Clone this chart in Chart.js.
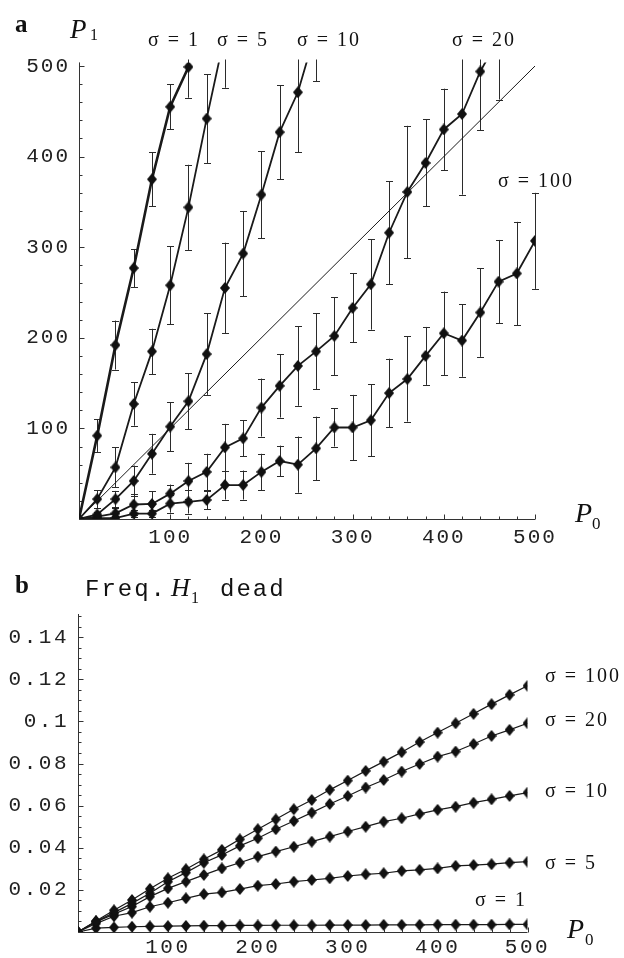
<!DOCTYPE html>
<html><head><meta charset="utf-8">
<script src="https://cdn.jsdelivr.net/npm/chart.js@4.4.0/dist/chart.umd.min.js"></script>
<style>
html,body{margin:0;padding:0;background:#fff;}
#wrapA{position:absolute;left:0;top:0;width:624px;height:556px;}
#wrapB{position:absolute;left:0;top:556px;width:624px;height:402px;}
canvas{display:block;}
</style></head><body>
<div id="wrapA"><canvas id="cA"></canvas></div>
<div id="wrapB"><canvas id="cB"></canvas></div>
<script>
// ---------- shared x values (P0) ----------
const P0 = [0,20,40,60,80,100,120,140,160,180,200,220,240,260,280,300,320,340,360,380,400,420,440,460,480,500];

// ---------- panel a : P1 vs P0, with error bars ----------
const a_sigma1     = [0, 92, 192, 277, 375, 455, 499];
const a_sigma1_err = [0, 18, 27, 21, 30, 25, 34];
const a_sigma5     = [0, 22, 57, 127, 185, 258, 344, 442, 535];
const a_sigma5_err = [0, 10, 22, 24, 25, 43, 47, 49, 59];
const a_sigma10     = [0, 5, 22, 42, 72, 102, 130, 182, 255, 293, 358, 427, 471, 540];
const a_sigma10_err = [0, 3, 9, 17, 22, 27, 31, 45, 50, 47, 48, 52, 66, 57];
const a_sigma20     = [0, 2.6, 6.3, 16, 16.6, 28, 42, 52, 79, 89, 123, 147, 169, 185, 202, 233, 259, 316, 361, 393, 430, 447, 494, 530];
const a_sigma20_err = [0, 3, 6, 12, 14, 10, 20, 20, 26, 20, 32, 35, 44, 42, 43, 38, 50, 57, 73, 48, 45, 89, 65, 67];
const a_sigma100     = [0, 1, 1, 6, 6, 17, 19, 21, 37.5, 37.5, 52, 64, 60, 78, 101, 101, 109, 139, 154.5, 180, 205, 197, 228, 262, 271, 307];
const a_sigma100_err = [0, 1, 2, 4, 4, 10, 13, 10, 16, 16, 20, 17, 31, 35, 21, 36, 40, 38, 47, 32, 46, 40, 49, 46, 57, 53];
const a_diagX = [0, 500];
const a_diagY = [0, 500];
const a_xTicks = [100, 200, 300, 400, 500];
const a_yTicks = [100, 200, 300, 400, 500];

// ---------- panel b : frequency of H1 dead ----------
const b_sigma100 = [0, 0.0052, 0.0103, 0.0152, 0.0205, 0.0255, 0.0298, 0.0345, 0.039, 0.044, 0.0488, 0.0535, 0.0583, 0.0627, 0.0675, 0.0719, 0.0765, 0.0809, 0.0854, 0.0902, 0.0947, 0.0991, 0.1036, 0.1082, 0.1126, 0.1169];
const b_sigma20  = [0, 0.005, 0.0092, 0.0136, 0.0184, 0.0239, 0.0282, 0.0329, 0.0366, 0.0409, 0.0445, 0.0488, 0.0527, 0.0567, 0.0608, 0.0646, 0.0686, 0.0722, 0.0762, 0.0798, 0.0833, 0.0857, 0.0893, 0.0931, 0.096, 0.0991];
const b_sigma10  = [0, 0.0048, 0.0085, 0.0121, 0.0168, 0.0207, 0.0239, 0.0271, 0.0302, 0.0329, 0.0358, 0.0382, 0.0405, 0.0429, 0.0453, 0.0477, 0.05, 0.0524, 0.054, 0.0561, 0.058, 0.0595, 0.0614, 0.063, 0.0646, 0.0662];
const b_sigma5   = [0, 0.004, 0.0075, 0.0092, 0.012, 0.0139, 0.016, 0.018, 0.0188, 0.0204, 0.022, 0.0228, 0.0239, 0.0247, 0.0255, 0.0266, 0.0274, 0.0279, 0.029, 0.0295, 0.0302, 0.0314, 0.0318, 0.0322, 0.0329, 0.0334];
const b_sigma1   = [0, 0.0018, 0.0022, 0.0025, 0.0027, 0.0028, 0.0029, 0.003, 0.003, 0.0031, 0.0031, 0.0032, 0.0032, 0.0032, 0.0033, 0.0033, 0.0033, 0.0034, 0.0034, 0.0034, 0.0035, 0.0035, 0.0035, 0.0035, 0.0036, 0.0036];
const b_xTicks = [100, 200, 300, 400, 500];
const b_yTicks = [0.02, 0.04, 0.06, 0.08, 0.1, 0.12, 0.14];

// ---------- helpers ----------
const SERIF = '"Liberation Serif","Times New Roman",serif';
const MONO = '"Liberation Mono","Courier New",monospace';
const INK = '#1a1a1a';

function pts(xs, ys){ return ys.map((y,i)=>({x:xs[i], y:y})); }

const diamond = (function(){
  const c = document.createElement('canvas'); c.width = 10; c.height = 12;
  const g = c.getContext('2d'); g.fillStyle = '#111';
  g.beginPath(); g.moveTo(5,0); g.lineTo(10,6); g.lineTo(5,12); g.lineTo(0,6); g.closePath(); g.fill();
  return c;
})();

function series(xs, ys, errs, width){
  return { data: pts(xs, ys), errors: errs || null, showLine: true, borderColor: INK, borderWidth: width,
    pointStyle: diamond, pointRadius: 5, pointHoverRadius: 5, backgroundColor: INK, tension: 0 };
}

function spacing(px){
  const set = c => { c.ctx.letterSpacing = px; };
  return { id: 'spacing', beforeUpdate: set, beforeLayout: set, beforeDraw: set };
}

const errorBars = {
  id: 'errorBars',
  beforeDatasetsDraw(chart){
    const {ctx, chartArea: a, scales: {x, y}} = chart;
    ctx.save();
    ctx.beginPath(); ctx.rect(a.left - 5, a.top - 3, a.right - a.left + 10, a.bottom - a.top + 3); ctx.clip();
    ctx.strokeStyle = '#2b2b2b'; ctx.lineWidth = 1;
    chart.data.datasets.forEach(ds => {
      if (!ds.errors) return;
      ds.data.forEach((p, i) => {
        const e = ds.errors[i]; if (!e) return;
        const px = Math.round(x.getPixelForValue(p.x)) + 0.5;
        const y1 = y.getPixelForValue(p.y + e), y2 = y.getPixelForValue(p.y - e);
        ctx.beginPath();
        ctx.moveTo(px, y1); ctx.lineTo(px, y2);
        ctx.moveTo(px - 3.5, Math.round(y1) + 0.5); ctx.lineTo(px + 3.5, Math.round(y1) + 0.5);
        ctx.moveTo(px - 3.5, Math.round(y2) + 0.5); ctx.lineTo(px + 3.5, Math.round(y2) + 0.5);
        ctx.stroke();
      });
    });
    ctx.restore();
  }
};

function axesPlugin(isMajorX, isMajorY){
  return {
    id: 'axesInside',
    beforeDatasetsDraw(chart){
      const {ctx, chartArea: a, scales: {x, y}} = chart;
      const x0 = Math.round(x.getPixelForValue(x.min)) + 0.5;
      const y0 = Math.round(y.getPixelForValue(0)) + 0.5;
      ctx.save();
      ctx.strokeStyle = '#333'; ctx.lineWidth = 1;
      ctx.beginPath();
      ctx.moveTo(x0, y0); ctx.lineTo(x0, a.top);
      ctx.moveTo(x0, y0); ctx.lineTo(x.getPixelForValue(x.max), y0);
      y.ticks.forEach(t => {
        const py = Math.round(y.getPixelForValue(t.value)) + 0.5;
        ctx.moveTo(x0, py); ctx.lineTo(x0 + (isMajorY(t.value) ? 5 : 3), py);
      });
      x.ticks.forEach(t => {
        const px = Math.round(x.getPixelForValue(t.value)) + 0.5;
        ctx.moveTo(px, y0); ctx.lineTo(px, y0 - (isMajorX(t.value) ? 5 : 3));
      });
      ctx.stroke();
      ctx.restore();
    }
  };
}

function textPlugin(items){
  return {
    id: 'texts',
    afterDraw(chart){
      const ctx = chart.ctx;
      ctx.save();
      ctx.fillStyle = '#111'; ctx.textBaseline = 'alphabetic'; ctx.textAlign = 'left';
      items.forEach(it => {
        ctx.font = it.font; ctx.letterSpacing = (it.ls || 0) + 'px';
        ctx.fillText(it.t, it.x, it.y);
      });
      ctx.restore();
    }
  };
}

function baseOptions(o){
  return {
    responsive: true, maintainAspectRatio: false, animation: false, events: [],
    layout: { padding: o.padding },
    plugins: { legend: { display: false }, tooltip: { enabled: false } },
    scales: {
      x: { type: 'linear', min: 0, max: o.xmax,
        grid: { display: false, drawTicks: false }, border: { display: false },
        afterFit: s => { s.height = o.xh; },
        ticks: { stepSize: o.xstep, autoSkip: false, maxRotation: 0, includeBounds: false, padding: o.xpad,
          color: '#222', font: { family: MONO, size: 21 },
          callback: o.xlab } },
      y: { type: 'linear', min: 0, max: o.ymax,
        grid: { display: false, drawTicks: false }, border: { display: false },
        afterFit: s => { s.width = o.yw; },
        ticks: { stepSize: o.ystep, autoSkip: false, includeBounds: false, padding: o.ypad,
          color: '#222', font: { family: MONO, size: 21 },
          callback: o.ylab } }
    }
  };
}

// ---------- chart a ----------
const dsA = [
  { data: pts(a_diagX, a_diagY), showLine: true, borderColor: INK, borderWidth: 1, pointRadius: 0 },
  series(P0, a_sigma1, a_sigma1_err, 2.6),
  series(P0, a_sigma5, a_sigma5_err, 1.8),
  series(P0, a_sigma10, a_sigma10_err, 1.8),
  series(P0, a_sigma20, a_sigma20_err, 1.8),
  series(P0, a_sigma100, a_sigma100_err, 1.8)
];
const optA = baseOptions({
  padding: { left: 0, right: 89, top: 62.4, bottom: 0 },
  xmax: 500, ymax: 504, xh: 37, yw: 79, xstep: 20, ystep: 20, xpad: 6, ypad: 9,
  xlab: v => a_xTicks.includes(v) ? String(v) : '',
  ylab: v => a_yTicks.includes(v) ? String(v) : ''
});
new Chart(document.getElementById('cA'), {
  type: 'scatter', data: { datasets: dsA }, options: optA,
  plugins: [spacing('2px'), axesPlugin(v => v % 100 === 0, v => v % 100 === 0), errorBars,
    textPlugin([
      { t: 'a', x: 15, y: 32, font: 'bold 25px ' + SERIF },
      { t: 'P', x: 70, y: 38, font: 'italic 27px ' + SERIF },
      { t: '1', x: 90, y: 40, font: '16px ' + SERIF },
      { t: 'σ = 1', x: 148, y: 46, font: '20px ' + SERIF, ls: 2 },
      { t: 'σ = 5', x: 217, y: 46, font: '20px ' + SERIF, ls: 2 },
      { t: 'σ = 10', x: 297, y: 46, font: '20px ' + SERIF, ls: 2 },
      { t: 'σ = 20', x: 452, y: 46, font: '20px ' + SERIF, ls: 2 },
      { t: 'σ = 100', x: 498, y: 187, font: '20px ' + SERIF, ls: 2 },
      { t: 'P', x: 575, y: 522, font: 'italic 28px ' + SERIF },
      { t: '0', x: 592, y: 529, font: '17px ' + SERIF }
    ])]
});

// ---------- chart b ----------
const dsB = [
  series(P0, b_sigma100, null, 1.2),
  series(P0, b_sigma20, null, 1.2),
  series(P0, b_sigma10, null, 1.2),
  series(P0, b_sigma5, null, 1.2),
  series(P0, b_sigma1, null, 1.2)
];
const optB = baseOptions({
  padding: { left: 0, right: 96.5, top: 58, bottom: 0 },
  xmax: 500, ymax: 0.151, xh: 26, yw: 78, xstep: 20, ystep: 0.005, xpad: 3, ypad: 9,
  xlab: v => b_xTicks.includes(v) ? String(v) : '',
  ylab: v => b_yTicks.some(t => Math.abs(t - v) < 1e-9) ? String(Math.round(v * 100) / 100) : ''
});
new Chart(document.getElementById('cB'), {
  type: 'scatter', data: { datasets: dsB }, options: optB,
  plugins: [spacing('2.5px'), axesPlugin(v => v % 100 === 0, v => Math.round(v * 1000) % 20 === 0),
    textPlugin([
      { t: 'b', x: 15, y: 37, font: 'bold 25px ' + SERIF },
      { t: 'Freq.', x: 85, y: 40, font: '24px ' + MONO, ls: 2 },
      { t: 'H', x: 171, y: 40, font: 'italic 26px ' + SERIF },
      { t: '1', x: 191, y: 47, font: '16px ' + SERIF },
      { t: 'dead', x: 220, y: 40, font: '24px ' + MONO, ls: 2 },
      { t: 'σ = 100', x: 545, y: 126, font: '20px ' + SERIF, ls: 2 },
      { t: 'σ = 20', x: 545, y: 170, font: '20px ' + SERIF, ls: 2 },
      { t: 'σ = 10', x: 545, y: 241, font: '20px ' + SERIF, ls: 2 },
      { t: 'σ = 5', x: 545, y: 313, font: '20px ' + SERIF, ls: 2 },
      { t: 'σ = 1', x: 475, y: 350, font: '20px ' + SERIF, ls: 2 },
      { t: 'P', x: 567, y: 382, font: 'italic 28px ' + SERIF },
      { t: '0', x: 585, y: 389, font: '17px ' + SERIF }
    ])]
});
</script>
</body></html>
